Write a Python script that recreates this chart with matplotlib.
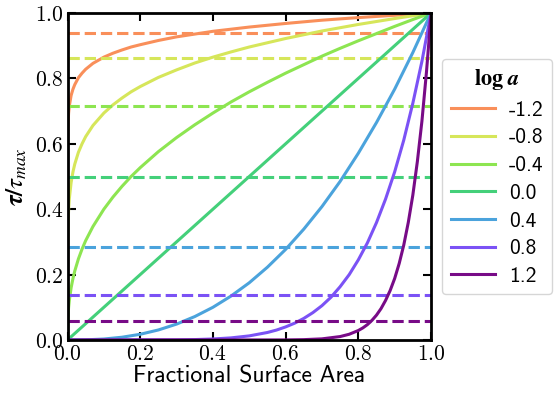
import matplotlib
matplotlib.use('Agg')
import matplotlib.pyplot as plt
from matplotlib.ticker import FuncFormatter

# valores
log_a = ['-1.2', '-0.8', '-0.4', '0.0', '0.4', '0.8', '1.2']
cores = ['#f98f5a', '#d6e65a', '#8de551', '#44d07a', '#4ba3dc', '#7b52f5', '#780b87']
medias = [0.94, 0.863, 0.715, 0.50, 0.285, 0.137, 0.059]

x_m12 = [0, 0.0001, 0.0005, 0.001, 0.003, 0.005, 0.01, 0.015, 0.02, 0.03, 0.04, 0.05, 0.07, 0.1, 0.125,
         0.15, 0.175, 0.2, 0.25, 0.3, 0.4, 0.5, 0.6, 0.7, 0.8, 0.9, 1.0]
y_m12 = [0, 0.56, 0.62, 0.65, 0.693, 0.716, 0.748, 0.767, 0.781, 0.802, 0.816, 0.828, 0.846, 0.865, 0.877,
         0.887, 0.896, 0.903, 0.916, 0.927, 0.944, 0.957, 0.968, 0.978, 0.986, 0.993, 1.0]

x_m08 = [0, 0.0001, 0.001, 0.003, 0.005, 0.01, 0.015, 0.02, 0.03, 0.04, 0.05, 0.07, 0.1, 0.125, 0.15,
         0.175, 0.2, 0.25, 0.3, 0.35, 0.4, 0.45, 0.5, 0.6, 0.7, 0.8, 0.9, 1.0]
y_m08 = [0, 0.23, 0.335, 0.398, 0.432, 0.482, 0.514, 0.538, 0.574, 0.600, 0.622, 0.656, 0.694, 0.719, 0.740,
         0.759, 0.775, 0.803, 0.826, 0.847, 0.865, 0.881, 0.896, 0.922, 0.945, 0.965, 0.983, 1.0]

x_m04 = [0, 0.0001, 0.001, 0.003, 0.005, 0.01, 0.015, 0.02, 0.03, 0.04, 0.05, 0.07, 0.1, 0.125, 0.15,
         0.175, 0.2, 0.25, 0.3, 0.35, 0.4, 0.45, 0.5, 0.55, 0.6, 0.65, 0.7, 0.75, 0.8, 0.85, 0.9, 0.95, 1.0]
y_m04 = [0, 0.026, 0.064, 0.099, 0.121, 0.160, 0.188, 0.211, 0.248, 0.278, 0.304, 0.347, 0.400, 0.437, 0.470,
         0.500, 0.527, 0.576, 0.619, 0.658, 0.694, 0.728, 0.759, 0.788, 0.816, 0.842, 0.868, 0.892, 0.915,
         0.937, 0.959, 0.980, 1.0]

x_00 = [0, 1.0]
y_00 = [0, 1.0]

x_04 = [0, 0.05, 0.1, 0.15, 0.2, 0.25, 0.3, 0.35, 0.4, 0.45, 0.5, 0.55, 0.6, 0.65, 0.7, 0.75, 0.8, 0.85,
        0.9, 0.95, 1.0]
y_04 = [0, 0.0005, 0.003, 0.0085, 0.0175, 0.0307, 0.0486, 0.0716, 0.100, 0.1345, 0.175, 0.2227, 0.277,
        0.339, 0.408, 0.485, 0.571, 0.665, 0.767, 0.879, 1.0]

x_08 = [0, 0.3, 0.35, 0.4, 0.45, 0.5, 0.55, 0.575, 0.6, 0.625, 0.65, 0.675, 0.7, 0.725, 0.75, 0.775, 0.8,
        0.825, 0.85, 0.875, 0.9, 0.925, 0.95, 0.975, 1.0]
y_08 = [0, 0.0005, 0.0013, 0.0031, 0.0065, 0.0126, 0.023, 0.0304, 0.040, 0.0515, 0.066, 0.0837, 0.105,
        0.131, 0.163, 0.200, 0.245, 0.297, 0.359, 0.431, 0.514, 0.611, 0.724, 0.852, 1.0]

x_12 = [0, 0.6, 0.65, 0.7, 0.75, 0.775, 0.8, 0.8125, 0.825, 0.8375, 0.85, 0.8625, 0.875, 0.8875, 0.9,
        0.9125, 0.925, 0.9375, 0.95, 0.9625, 0.975, 0.9875, 0.9937, 1.0]
y_12 = [0, 0.0003, 0.0011, 0.0035, 0.0105, 0.0176, 0.029, 0.037, 0.047, 0.060, 0.076, 0.096, 0.121, 0.151,
        0.188, 0.234, 0.290, 0.3595, 0.443, 0.546, 0.669, 0.819, 0.905, 1.0]

xs = [x_m12, x_m08, x_m04, x_00, x_04, x_08, x_12]
ys = [y_m12, y_m08, y_m04, y_00, y_04, y_08, y_12]

plt.rcParams['mathtext.fontset'] = 'cm'

fig = plt.figure(figsize=(5.54, 3.94), dpi=100)
ax = fig.add_axes([67.5 / 554, 1 - 340 / 394, 363.5 / 554, 327 / 394])

for x, y, m, c, lab in zip(xs, ys, medias, cores, log_a):
    ax.plot(x, y, color=c, lw=2.2, label=lab)
    ax.axhline(m, color=c, lw=2.2, ls='--')

ax.set_xlim(0, 1)
ax.set_ylim(0, 1)
ax.set_xticks([0, 0.2, 0.4, 0.6, 0.8, 1.0])
ax.set_yticks([0, 0.2, 0.4, 0.6, 0.8, 1.0])
fmt = FuncFormatter(lambda v, p: r'$\mathbf{%.1f}$' % v)
ax.xaxis.set_major_formatter(fmt)
ax.yaxis.set_major_formatter(fmt)
ax.tick_params(direction='in', length=6, width=1.5, labelsize=15.5, pad=3, top=True, right=True)
for s in ax.spines.values():
    s.set_linewidth(2)

ax.set_xlabel('Fractional Surface Area', family='cmss10', fontsize=17, labelpad=1)
ax.set_ylabel(r'$\boldsymbol{\tau/\tau_{max}}$', fontsize=18, math_fontfamily='stix', labelpad=4)

leg = ax.legend(loc='center left', bbox_to_anchor=(1.03, 0.5), borderaxespad=0,
                prop={'family': 'cmss10', 'size': 15.5}, handlelength=2.05,
                handletextpad=0.65, labelspacing=0.4, fancybox=True)
leg.set_title(r'$\mathbf{log}\ \boldsymbol{a}$', prop={'size': 16})
leg.get_title().set_math_fontfamily('stix')

fig.savefig('out.png', dpi=100)
